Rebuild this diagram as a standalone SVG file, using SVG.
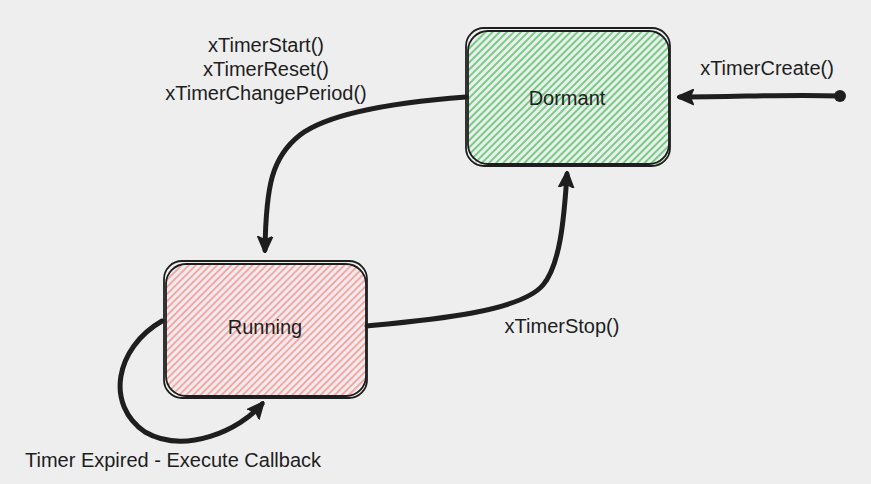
<svg xmlns="http://www.w3.org/2000/svg" width="871" height="484" viewBox="0 0 871 484">
<defs>
<pattern id="hg" width="5" height="5" patternUnits="userSpaceOnUse" patternTransform="rotate(45)">
<line x1="1" y1="0" x2="1" y2="5" stroke="#40c057" stroke-width="1.4"/>
</pattern>
<pattern id="hr" width="5" height="5" patternUnits="userSpaceOnUse" patternTransform="rotate(45)">
<line x1="1" y1="0" x2="1" y2="5" stroke="#ff8787" stroke-width="1.4"/>
</pattern>
<marker id="ah" viewBox="0 0 10 10" refX="8" refY="5" markerWidth="3.4" markerHeight="3.4" orient="auto" markerUnits="strokeWidth">
<path d="M0,0.5 L10,5 L0,9.5 L2,5 Z" fill="#1e1e1e" stroke="#1e1e1e" stroke-width="0.8" stroke-linejoin="round"/>
</marker>
<style>
.box{fill:none;stroke:#1e1e1e;stroke-width:1.8}
.lbl{font-family:"Liberation Sans",Arial,sans-serif;font-size:20px;fill:#1e1e1e;text-anchor:middle}
.con{fill:none;stroke:#1e1e1e;stroke-width:5;stroke-linecap:round;stroke-linejoin:round}
</style>
</defs>
<rect width="871" height="484" fill="#eeeeee"/>

<g id="dormant">
<rect x="468" y="30" width="201" height="136" rx="20" fill="url(#hg)"/>
<rect class="box" x="466" y="28" width="204" height="138" rx="18"/>
<rect class="box" x="468" y="31" width="201" height="133" rx="20"/>
<text class="lbl" x="567" y="105">Dormant</text>
</g>

<g id="running">
<rect x="166" y="263" width="200" height="134" rx="20" fill="url(#hr)"/>
<rect class="box" x="164" y="261" width="203" height="137" rx="18"/>
<rect class="box" x="166" y="264" width="200" height="132" rx="20"/>
<text class="lbl" x="265" y="334">Running</text>
</g>

<g id="connectors">
<path class="con" d="M840,96 C790,94 740,97 680,97" marker-end="url(#ah)"/>
<circle cx="840" cy="96" r="6" fill="#1e1e1e"/>
<path class="con" d="M466,97 C400,102 330,112 300,135 C272,157 266,185 265,250" marker-end="url(#ah)"/>
<path class="con" d="M367,326 C430,320 520,312 543,285 C560,265 564,220 567,174" marker-end="url(#ah)"/>
<path class="con" d="M162,321 C115,348 105,405 145,432 C185,455 240,430 262,404" marker-end="url(#ah)"/>
</g>

<g id="labels">
<text class="lbl" x="266" y="52">xTimerStart()</text>
<text class="lbl" x="266" y="76">xTimerReset()</text>
<text class="lbl" x="266" y="100">xTimerChangePeriod()</text>
<text class="lbl" x="767" y="75">xTimerCreate()</text>
<text class="lbl" x="562" y="333">xTimerStop()</text>
<text class="lbl" x="173" y="467">Timer Expired - Execute Callback</text>
</g>
</svg>
